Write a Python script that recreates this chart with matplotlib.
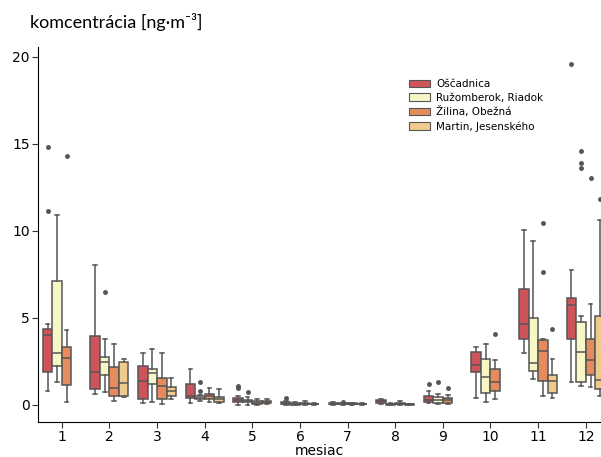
import matplotlib
matplotlib.use('Agg')
import matplotlib.pyplot as plt
from matplotlib.patches import Patch

# Monthly concentrations, each box given as (whisker low, Q1, median, Q3, whisker high)
months = [1, 2, 3, 4, 5, 6, 7, 8, 9, 10, 11, 12]
stations = ['Oščadnica', 'Ružomberok, Riadok', 'Žilina, Obežná', 'Martin, Jesenského']
colors = ['#cf5459', '#f7f6c6', '#e68b5d', '#f0c98d']

oscadnica = [
    (0.80, 1.91, 4.02, 4.37, 4.64),
    (0.63, 0.90, 1.88, 3.97, 8.05),
    (0.10, 0.33, 1.40, 2.24, 3.01),
    (0.12, 0.42, 0.50, 1.21, 2.07),
    (0.02, 0.19, 0.30, 0.38, 0.50),
    (0.00, 0.05, 0.08, 0.15, 0.22),
    (0.02, 0.05, 0.08, 0.12, 0.15),
    (0.05, 0.10, 0.20, 0.28, 0.35),
    (0.10, 0.19, 0.30, 0.54, 0.80),
    (0.38, 1.92, 2.28, 3.07, 3.35),
    (2.99, 3.81, 4.66, 6.67, 10.06),
    (1.30, 3.81, 5.73, 6.13, 7.74),
]
oscadnica_fliers = [[14.85, 11.13], [], [], [], [1.11, 0.96], [0.42], [], [], [1.19], [], [], [19.6]]

ruzomberok = [
    (1.30, 2.26, 3.01, 7.13, 10.90),
    (0.73, 1.71, 2.49, 2.76, 3.77),
    (0.19, 1.21, 1.82, 2.09, 3.20),
    (0.20, 0.33, 0.42, 0.52, 0.60),
    (0.02, 0.15, 0.22, 0.30, 0.45),
    (0.00, 0.02, 0.05, 0.10, 0.15),
    (0.00, 0.03, 0.06, 0.10, 0.12),
    (0.00, 0.02, 0.04, 0.08, 0.10),
    (0.05, 0.13, 0.30, 0.48, 0.65),
    (0.17, 0.67, 1.59, 2.66, 3.51),
    (1.51, 1.95, 2.39, 5.02, 9.44),
    (1.09, 1.34, 3.05, 4.79, 5.11),
]
ruzomberok_fliers = [[], [6.48], [], [1.30, 0.82], [0.77], [], [0.15], [], [1.34], [], [], [14.62, 13.93, 13.64]]

zilina = [
    (0.19, 1.13, 2.68, 3.31, 4.31),
    (0.23, 0.54, 1.00, 2.20, 3.49),
    (0.04, 0.33, 1.09, 1.53, 2.97),
    (0.17, 0.33, 0.50, 0.61, 1.00),
    (0.00, 0.08, 0.12, 0.20, 0.33),
    (0.00, 0.03, 0.06, 0.09, 0.20),
    (0.02, 0.05, 0.08, 0.10, 0.14),
    (0.00, 0.04, 0.07, 0.10, 0.23),
    (0.05, 0.13, 0.30, 0.42, 0.60),
    (0.33, 0.79, 1.30, 2.05, 2.57),
    (0.54, 1.40, 3.10, 3.72, 3.80),
    (1.01, 1.72, 2.59, 3.81, 5.82),
]
zilina_fliers = [[14.31], [], [], [], [], [], [], [], [0.96], [4.08], [10.48, 7.66], [13.03]]

martin = [
    None,
    (0.48, 0.54, 1.25, 2.45, 2.66),
    (0.33, 0.54, 0.80, 1.03, 1.53),
    (0.13, 0.19, 0.33, 0.48, 0.92),
    (0.05, 0.10, 0.18, 0.25, 0.35),
    (0.00, 0.03, 0.05, 0.08, 0.12),
    (0.02, 0.04, 0.06, 0.08, 0.10),
    (0.00, 0.02, 0.04, 0.06, 0.08),
    None,
    None,
    (0.38, 0.71, 1.38, 1.72, 2.66),
    (0.54, 0.92, 1.44, 5.11, 10.61),
]
martin_fliers = [[], [], [], [], [], [], [], [], [], [], [4.39], [11.86]]

series = [(oscadnica, oscadnica_fliers), (ruzomberok, ruzomberok_fliers),
          (zilina, zilina_fliers), (martin, martin_fliers)]

line_gray = '#555555'

fig = plt.figure(figsize=(6.01, 4.57), dpi=100)
ax = fig.add_axes([38 / 601, 1 - 422 / 457, 1 - 38 / 601, (422 - 47) / 457])

offsets = [-0.3, -0.1, 0.1, 0.3]
handles = []
for (boxes, fliers), color, off, name in zip(series, colors, offsets, stations):
    stats, pos = [], []
    for i, b in enumerate(boxes):
        if b is None:
            continue
        wlo, q1, med, q3, whi = b
        stats.append(dict(whislo=wlo, q1=q1, med=med, q3=q3, whishi=whi, fliers=fliers[i]))
        pos.append(i + off)
    ax.bxp(stats, positions=pos, widths=0.2, capwidths=0.08, patch_artist=True,
           boxprops=dict(facecolor=color, edgecolor=line_gray, linewidth=1.1),
           medianprops=dict(color=line_gray, linewidth=1.1),
           whiskerprops=dict(color=line_gray, linewidth=1.1),
           capprops=dict(color=line_gray, linewidth=1.1),
           flierprops=dict(marker='o', markersize=2.5, markerfacecolor=line_gray,
                           markeredgecolor=line_gray))
    handles.append(Patch(facecolor=color, edgecolor=line_gray, linewidth=0.8, label=name))

ax.set_xlim(-0.5, 11.32)
ax.set_ylim(-0.98, 20.57)
ax.set_xticks(range(len(months)))
ax.set_xticklabels([str(m) for m in months])
ax.set_yticks([0, 5, 10, 15, 20])
ax.tick_params(labelsize=10, length=4, pad=2, color='#333333')
ax.spines['top'].set_visible(False)
ax.spines['right'].set_visible(False)
ax.set_xlabel('mesiac', fontsize=10, labelpad=0)

ax.legend(handles=handles, loc='upper left', bbox_to_anchor=(0.642, 0.94), frameon=False,
          fontsize=7.5, handlelength=2.0, handleheight=0.7, labelspacing=0.36,
          handletextpad=0.6)

fig.text(30 / 601, 1 - 28 / 457, 'komcentrácia [ng·m⁻³]', fontsize=13,
         family=['Lato', 'DejaVu Sans'])

fig.savefig('out.png', dpi=100)
